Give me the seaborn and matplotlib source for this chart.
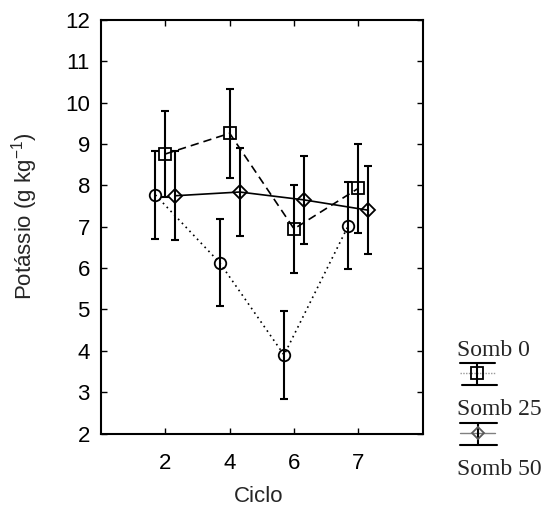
import numpy as np
import pandas as pd
import matplotlib
matplotlib.use("Agg")
import matplotlib.pyplot as plt
import seaborn as sns

# ---- data ----
cycles = ["2", "4", "6", "7"]
series = ["Somb 0", "Somb 25", "Somb 50"]
somb0 = [8.76, 9.26, 6.95, 7.93]
err0 = [1.05, 1.07, 1.06, 1.07]
somb25 = [7.75, 7.84, 7.65, 7.40]
err25 = [1.07, 1.07, 1.06, 1.06]
somb50 = [7.77, 6.13, 3.90, 7.03]
err50 = [1.07, 1.05, 1.07, 1.05]

values = {"Somb 0": somb0, "Somb 25": somb25, "Somb 50": somb50}
errors = {"Somb 0": err0, "Somb 25": err25, "Somb 50": err50}
offsets = {"Somb 0": 0.0, "Somb 25": 0.155, "Somb 50": -0.155}

rows = []
for s in series:
    for i, c in enumerate(cycles):
        rows.append({"serie": s, "pos": i + 1 + offsets[s], "val": values[s][i], "err": errors[s][i]})
df = pd.DataFrame(rows)

sns.set_style("ticks")
plt.rcParams["font.family"] = ["Liberation Sans", "DejaVu Sans"]
plt.rcParams["mathtext.fontset"] = "custom"
plt.rcParams["mathtext.rm"] = "Liberation Sans"

W, H = 547, 522
fig = plt.figure(figsize=(W / 100, H / 100), dpi=100)
ax = fig.add_axes([101 / W, 1 - 433.5 / H, (422.7 - 101) / W, (433.5 - 20) / H])

sns.lineplot(
    data=df, x="pos", y="val", hue="serie", style="serie",
    palette={s: "black" for s in series},
    markers={"Somb 0": "s", "Somb 25": "D", "Somb 50": "o"},
    dashes={"Somb 0": (5, 3), "Somb 25": "", "Somb 50": (1, 2.3)},
    linewidth=1.2, markersize=8.3, legend=False, ax=ax,
    sort=False,
)
for ln in ax.lines:
    ln.set_markerfacecolor("none")
    ln.set_markeredgecolor("black")
    ln.set_markeredgewidth(1.3)
    if ln.get_marker() == "D":
        ln.set_markersize(7.5)

for s in series:
    sub = df[df["serie"] == s]
    ax.errorbar(sub["pos"], sub["val"], yerr=sub["err"], fmt="none",
                ecolor="black", elinewidth=1.5, capsize=2.8, capthick=1.5, zorder=3)

ax.set_xlim(0, 5)
ax.set_ylim(2, 12)
ax.set_xticks(range(1, len(cycles) + 1))
ax.set_xticklabels(cycles)
ax.set_yticks(range(2, 13))
ax.set_xlabel("")
ax.set_ylabel("")
ax.tick_params(direction="in", top=True, right=True, length=4.5, width=1.0,
               labelsize=16, colors="black")
ax.tick_params(axis="x", pad=14)
ax.tick_params(axis="y", pad=8)
for sp in ax.spines.values():
    sp.set_visible(True)
    sp.set_linewidth(1.5)
    sp.set_color("black")

fig.text(259 / W, 1 - 497 / H, "Ciclo", ha="center", va="center", fontsize=16)
fig.text(25 / W, 1 - 216 / H, "Potássio (g kg$^{-1}$)", ha="center", va="center",
         rotation=90, fontsize=16)

# ---- legend (drawn manually, in pixel coordinates of an overlay) ----
lax = fig.add_axes([0, 0, 1, 1], facecolor="none")
lax.set_xlim(0, W)
lax.set_ylim(H, 0)
lax.axis("off")
serif = ["Liberation Serif", "DejaVu Serif"]
lax.text(457, 356, series[0], family=serif, fontsize=17, va="baseline", ha="left")
lax.text(457, 415, series[1], family=serif, fontsize=17, va="baseline", ha="left")
lax.text(457, 475, series[2], family=serif, fontsize=17, va="baseline", ha="left")
# glyph for Somb 0
lax.plot([460, 495], [373, 373], color="0.6", lw=1.0, ls=(0, (1, 1)))
lax.plot([460, 495], [363, 363], color="black", lw=1.5)
lax.plot([462, 497], [385, 385], color="black", lw=1.5)
lax.plot([477, 477], [363, 385], color="black", lw=1.5)
lax.plot([477], [373], marker="s", ms=8, mfc="none", mec="black", mew=1.3)
# glyph for Somb 25
lax.plot([460, 495], [433, 433], color="0.5", lw=1.0)
lax.plot([460, 497], [423, 423], color="black", lw=1.5)
lax.plot([460, 497], [445, 445], color="black", lw=1.5)
lax.plot([478, 478], [423, 445], color="black", lw=1.5)
lax.plot([478], [433], marker="D", ms=6, mfc="none", mec="0.35", mew=1.3)

fig.savefig("out.png", dpi=100)
